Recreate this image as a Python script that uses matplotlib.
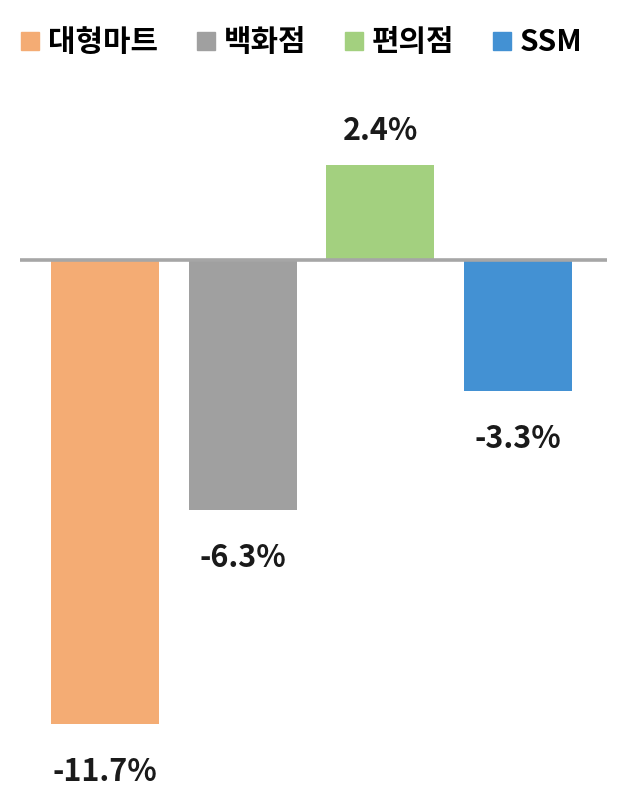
import matplotlib
matplotlib.use("Agg")
import matplotlib.pyplot as plt
from matplotlib.lines import Line2D

plt.rcParams['font.family'] = ['Noto Sans CJK KR', 'DejaVu Sans']

categories = ['대형마트', '백화점', '편의점', 'SSM']
values = [-11.7, -6.3, 2.4, -3.3]
labels = ['-11.7%', '-6.3%', '2.4%', '-3.3%']
colors = ['#F4AC74', '#A0A0A0', '#A3D07F', '#4391D3']

W, H = 624, 808
fig = plt.figure(figsize=(W / 100, H / 100), dpi=100)

ax_left, ax_right = 20, 607
ax_top, ax_bottom = 100, 800
ax = fig.add_axes([ax_left / W, 1 - ax_bottom / H, (ax_right - ax_left) / W, (ax_bottom - ax_top) / H])

scale = 39.7
ax.set_ylim(-(ax_bottom - 260) / scale, (260 - ax_top) / scale)
ax.set_xlim(-0.62, 3.65)

x = list(range(len(categories)))
ax.bar(x, values, width=0.785, color=colors, zorder=2)
ax.axhline(0, color='#A6A6A6', lw=2.6, zorder=3)

for xi, v, lab in zip(x, values, labels):
    off = 0.85 if v > 0 else -1.2
    ax.text(xi, v + off, lab, ha='center', va='center', fontsize=22,
            fontweight='bold', color='#1A1A1A')

for s in ax.spines.values():
    s.set_visible(False)
ax.set_xticks([])
ax.set_yticks([])

handles = [Line2D([], [], marker='s', linestyle='none', markersize=12.5,
                  markerfacecolor=c, markeredgecolor=c) for c in colors]
fig.legend(handles, categories, loc='center', bbox_to_anchor=(302 / W, 1 - 42 / H),
           ncol=4, frameon=False, handletextpad=0.3, columnspacing=1.3,
           handlelength=0.6, borderpad=0.2,
           prop={'size': 21.5, 'weight': 'bold'})

fig.savefig('out.png', dpi=100)
